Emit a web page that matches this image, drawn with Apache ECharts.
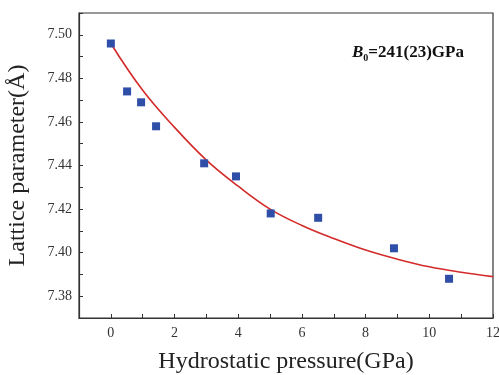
<!DOCTYPE html>
<html>
<head>
<meta charset="utf-8">
<script src="https://cdn.jsdelivr.net/npm/echarts@6/dist/echarts.min.js"></script>
<style>
  html, body { margin: 0; padding: 0; background: #fff; }
  #chart { width: 499px; height: 375px; }
</style>
</head>
<body>
<div id="chart"></div>
<script>
// measured points
const pressure = [0, 0.51, 0.95, 1.42, 2.93, 3.93, 5.02, 6.51, 8.89, 10.62]
const lattice = [7.496, 7.474, 7.469, 7.458, 7.441, 7.435, 7.418, 7.416, 7.402, 7.388]

// fitted curve
const fitP = [0, 1, 2, 3, 4, 5, 6, 7, 8, 9, 10, 11, 12]
const fitA = [7.496, 7.4745, 7.4575, 7.4425, 7.4305, 7.42, 7.4125, 7.4065, 7.4012, 7.397, 7.3935, 7.391, 7.389]

const serif = "'Liberation Serif', 'Times New Roman', serif"

const chart = echarts.init(document.getElementById('chart'))

const option = {
  backgroundColor: '#ffffff',
  animation: false,
  grid: {
    left: 79,
    right: 6,
    top: 13,
    bottom: 57,
    outerBoundsMode: 'none',
    show: true,
    borderColor: '#333',
    borderWidth: 1.2
  },
  xAxis: {
    type: 'value',
    min: -1,
    max: 12,
    interval: 1,
    name: 'Hydrostatic pressure(GPa)',
    nameLocation: 'middle',
    nameGap: 32,
    nameTextStyle: { fontFamily: serif, fontSize: 24, color: '#222' },
    axisLine: { show: true, onZero: false, lineStyle: { color: '#333', width: 1.2 } },
    axisTick: { show: true, inside: true, length: 4, lineStyle: { color: '#333' } },
    axisLabel: {
      fontFamily: serif,
      fontSize: 14,
      color: '#333',
      margin: 8,
      formatter: v => (Math.round(v) % 2 === 0 && v >= 0 ? String(Math.round(v)) : '')
    },
    splitLine: { show: false }
  },
  yAxis: {
    type: 'value',
    min: 7.37,
    max: 7.51,
    interval: 0.01,
    name: 'Lattice parameter(Å)',
    nameLocation: 'middle',
    nameGap: 49,
    nameTextStyle: { fontFamily: serif, fontSize: 24, color: '#222' },
    axisLine: { show: true, onZero: false, lineStyle: { color: '#333', width: 1.2 } },
    axisTick: { show: true, inside: true, length: 4, lineStyle: { color: '#333' } },
    axisLabel: {
      fontFamily: serif,
      fontSize: 14,
      color: '#333',
      margin: 7,
      formatter: v => {
        const k = Math.round(v * 100)
        return k % 2 === 0 ? (k / 100).toFixed(2) : ''
      }
    },
    splitLine: { show: false }
  },
  graphic: [
    {
      type: 'text',
      left: 352,
      top: 44,
      style: {
        text: '{b|B}{s|0}{t|=241(23)GPa}',
        rich: {
          b: { fontFamily: serif, fontSize: 17, fontWeight: 'bold', fontStyle: 'italic', fill: '#111' },
          s: { fontFamily: serif, fontSize: 10, fontWeight: 'bold', fill: '#111', padding: [11, 0, 0, 0] },
          t: { fontFamily: serif, fontSize: 17, fontWeight: 'bold', fill: '#111' }
        }
      }
    }
  ],
  series: [
    {
      name: 'fit',
      type: 'line',
      data: fitP.map((p, i) => [p, fitA[i]]),
      smooth: 0.4,
      showSymbol: false,
      lineStyle: { color: '#d42a2a', width: 1.6 },
      z: 2
    },
    {
      name: 'data',
      type: 'scatter',
      data: pressure.map((p, i) => [p, lattice[i]]),
      symbol: 'rect',
      symbolSize: 8,
      itemStyle: { color: '#2f4ea8', opacity: 1 },
      z: 3
    }
  ]
}

chart && chart.setOption(option)
</script>
</body>
</html>
